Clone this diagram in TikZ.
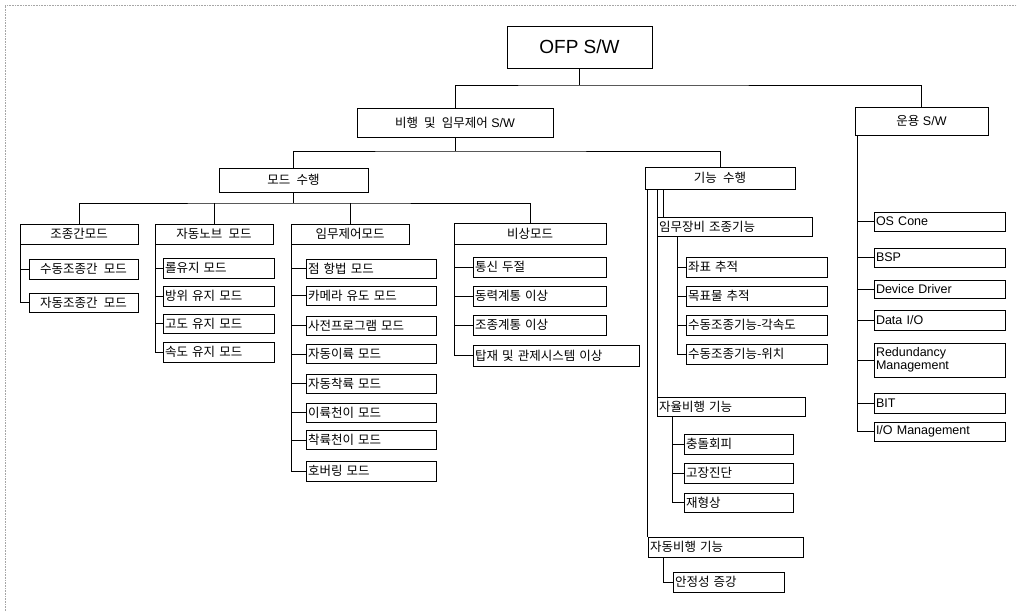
\documentclass[tikz,border=0pt]{standalone}
\usepackage{fontspec}
\setmainfont{Liberation Sans}
\newfontfamily\kr[WordSpace=2.2]{Noto Sans CJK KR}
\begin{document}
\begin{tikzpicture}[x=1pt,y=-1pt]
\tikzset{
  bx/.style={draw, line width=1pt, inner xsep=2pt, inner ysep=0pt, font=\kr\fontsize{12.5}{14}\selectfont},
  cbox/.style 2 args={bx, minimum width=#1pt, minimum height=#2pt, align=center},
  lbox/.style 2 args={bx, text width=#1pt, minimum height=#2pt, align=left},
  ebox/.style 2 args={lbox={#1}{#2}, font=\normalfont\fontsize{12.5}{13.5}\selectfont},
  ln/.style={line width=0.9pt},
  frame/.style={gray!70, line width=0.6pt, densely dotted}
}
\useasboundingbox (0,0) rectangle (1017,611);
\draw[frame] (5,611) -- (5,5) -- (1017,5);

% top levels
\node[cbox={145}{42}, font=\normalfont\fontsize{19}{21}\selectfont] (ofp) at (579.5,47) {OFP S/W};
\node[cbox={196}{29}, font=\normalfont\fontsize{12.5}{14}\selectfont] (fly) at (455,122.5) {{\kr 비행 및 임무제어} S/W};
\node[cbox={133}{28}, font=\normalfont\fontsize{12.5}{14}\selectfont] (ops) at (921.5,121) {{\kr 운용} S/W};
\node[cbox={149}{24}] (mode) at (293.5,180) {모드 수행};
\node[cbox={150}{22}] (func) at (720,178) {기능 수행};

\coordinate (b1) at (0,85);
\coordinate (b2) at (0,151);
\coordinate (b3) at (0,203);
\draw[ln] (ofp.south) -- (ofp.south |- b1);
\draw[ln] (fly.north) |- (ofp.south |- b1) -| (ops.north);
\draw[ln] (fly.south) -- (fly.south |- b2);
\draw[ln] (mode.north) |- (fly.south |- b2) -| (func.north);

% mode level
\node[cbox={118}{20}] (m1) at (79,234) {조종간모드};
\node[cbox={118}{20}] (m2) at (214,234) {자동노브 모드};
\node[cbox={118}{20}] (m3) at (350,234) {임무제어모드};
\node[cbox={152}{21}] (m4) at (530,233.5) {비상모드};
\draw[ln] (mode.south) -- (mode.south |- b3);
\draw[ln] (m1.north) |- (mode.south |- b3) -| (m4.north);
\draw[ln] (m2.north) -- (m2.north |- b3);
\draw[ln] (m3.north) -- (m3.north |- b3);

% children of m1
\node[cbox={109}{20}] (c11) at (83.5,269) {수동조종간 모드};
\node[cbox={109}{19}] (c12) at (83.5,302.5) {자동조종간 모드};
\coordinate (s1) at ([xshift=1pt]m1.south west);
\draw[ln] (s1) |- (c12.west);
\draw[ln] (s1 |- c11.west) -- (c11.west);

% children of m2
\node[lbox={107}{20}] (c21) at (218.5,268) {롤유지 모드};
\node[lbox={107}{20}] (c22) at (218.5,296) {방위 유지 모드};
\node[lbox={107}{19}] (c23) at (218.5,323.5) {고도 유지 모드};
\node[lbox={107}{20}] (c24) at (218.5,352) {속도 유지 모드};
\coordinate (s2) at ([xshift=1pt]m2.south west);
\draw[ln] (s2) |- (c24.west);
\foreach \n in {c21,c22,c23} \draw[ln] (s2 |- \n.west) -- (\n.west);

% children of m3
\node[lbox={126}{19}] (c31) at (371,268.5) {점 항법 모드};
\node[lbox={126}{19}] (c32) at (371,295.5) {카메라 유도 모드};
\node[lbox={126}{19}] (c33) at (371,325.5) {사전프로그램 모드};
\node[lbox={126}{19}] (c34) at (371,354) {자동이륙 모드};
\node[lbox={126}{19}] (c35) at (371,383.5) {자동착륙 모드};
\node[lbox={126}{19}] (c36) at (371,412.5) {이륙천이 모드};
\node[lbox={126}{19}] (c37) at (371,440) {착륙천이 모드};
\node[lbox={126}{20}] (c38) at (371,471) {호버링 모드};
\coordinate (s3) at ([xshift=1pt]m3.south west);
\draw[ln] (s3) |- (c38.west);
\foreach \n in {c31,c32,c33,c34,c35,c36,c37} \draw[ln] (s3 |- \n.west) -- (\n.west);

% children of m4
\node[lbox={129}{20}] (c41) at (539.5,267) {통신 두절};
\node[lbox={129}{20}] (c42) at (539.5,296) {동력계통 이상};
\node[lbox={129}{20}] (c43) at (539.5,325) {조종계통 이상};
\node[lbox={162}{21}] (c44) at (556,355.5) {탑재 및 관제시스템 이상};
\coordinate (s4) at ([xshift=1pt]m4.south west);
\draw[ln] (s4) |- (c44.west);
\foreach \n in {c41,c42,c43} \draw[ln] (s4 |- \n.west) -- (\n.west);

% function branch
\node[lbox={151}{19}] (f1) at (734.5,226.5) {임무장비 조종기능};
\node[lbox={144}{19}] (f2) at (731,406.5) {자율비행 기능};
\node[lbox={151}{20}] (f3) at (725.5,547) {자동비행 기능};
\coordinate (fA) at ([xshift=3pt]func.south west);
\coordinate (fB) at ([xshift=13pt]func.south west);
\coordinate (fC) at ([xshift=19pt]func.south west);
\draw[ln] (fA) -- (fA |- f3.north);
\draw[ln] (fB) -- (fB |- f2.north);
\draw[ln] (fC) -- (fC |- f1.north);

\node[lbox={137}{20}] (g11) at (756.5,267) {좌표 추적};
\node[lbox={137}{20}] (g12) at (756.5,296) {목표물 추적};
\node[lbox={137}{20}] (g13) at (756.5,325) {수동조종기능-각속도};
\node[lbox={137}{20}] (g14) at (756.5,354) {수동조종기능-위치};
\coordinate (s5) at ([xshift=21pt]f1.south west);
\draw[ln] (s5) |- (g14.west);
\foreach \n in {g11,g12,g13} \draw[ln] (s5 |- \n.west) -- (\n.west);

\node[lbox={105}{20}] (g21) at (738.5,444) {충돌회피};
\node[lbox={105}{20}] (g22) at (738.5,473) {고장진단};
\node[lbox={105}{19}] (g23) at (738.5,502.5) {재형상};
\coordinate (s6) at ([xshift=16pt]f2.south west);
\draw[ln] (s6) |- (g23.west);
\foreach \n in {g21,g22} \draw[ln] (s6 |- \n.west) -- (\n.west);

\node[lbox={107}{20}] (g31) at (728.5,582) {안정성 증강};
\coordinate (s7) at ([xshift=16pt]f3.south west);
\draw[ln] (s7) |- (g31.west);

% operation S/W children
\node[ebox={127}{19}] (o1) at (939.5,221.5) {OS Cone};
\node[ebox={127}{19}] (o2) at (939.5,257.5) {BSP};
\node[ebox={127}{18}] (o3) at (939.5,289) {Device Driver};
\node[ebox={127}{20}] (o4) at (939.5,320) {Data I/O};
\node[ebox={127}{34}] (o5) at (939.5,360) {Redundancy\\[-1pt]Management};
\node[ebox={127}{20}] (o6) at (939.5,403) {BIT};
\node[ebox={127}{19}] (o7) at (939.5,431.5) {I/O Management};
\coordinate (s8) at ([xshift=3pt]ops.south west);
\draw[ln] (s8) |- (o7.west);
\foreach \n in {o1,o2,o3,o4,o5,o6} \draw[ln] (s8 |- \n.west) -- (\n.west);
\end{tikzpicture}
\end{document}
